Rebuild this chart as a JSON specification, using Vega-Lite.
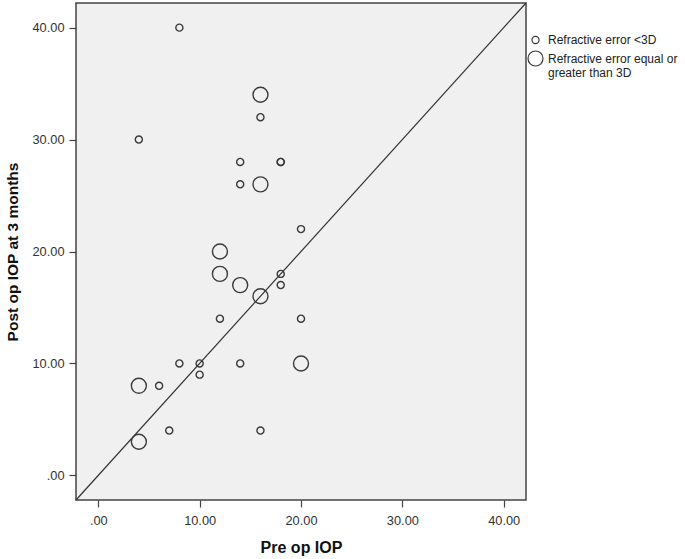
{
  "$schema": "https://vega.github.io/schema/vega-lite/v6.json",
  "autosize": {"type": "none"},
  "padding": {"left": 76, "top": 3, "right": 159, "bottom": 59},
  "width": 450,
  "height": 497,
  "background": "white",
  "config": {
    "view": {"fill": "#f0f0f0", "stroke": "#444444", "strokeWidth": 1.5},
    "font": "Liberation Sans",
    "axis": {"grid": false, "domain": false, "tickColor": "#444444", "tickSize": 7, "tickWidth": 1.2,
             "labelFont": "Liberation Sans", "labelFontSize": 12.8, "labelColor": "#333333",
             "titleFont": "Liberation Sans", "titleFontSize": 16, "titleFontWeight": "bold", "titleColor": "#111111"}
  },
  "datasets": {
    "pts": [
      {"pre": 8, "post": 40, "group": "Refractive error <3D"},
      {"pre": 4, "post": 30, "group": "Refractive error <3D"},
      {"pre": 16, "post": 32, "group": "Refractive error <3D"},
      {"pre": 14, "post": 28, "group": "Refractive error <3D"},
      {"pre": 18, "post": 28, "group": "Refractive error <3D"},
      {"pre": 18, "post": 28, "group": "Refractive error <3D"},
      {"pre": 14, "post": 26, "group": "Refractive error <3D"},
      {"pre": 20, "post": 22, "group": "Refractive error <3D"},
      {"pre": 18, "post": 18, "group": "Refractive error <3D"},
      {"pre": 18, "post": 17, "group": "Refractive error <3D"},
      {"pre": 12, "post": 14, "group": "Refractive error <3D"},
      {"pre": 20, "post": 14, "group": "Refractive error <3D"},
      {"pre": 8, "post": 10, "group": "Refractive error <3D"},
      {"pre": 10, "post": 10, "group": "Refractive error <3D"},
      {"pre": 14, "post": 10, "group": "Refractive error <3D"},
      {"pre": 10, "post": 9, "group": "Refractive error <3D"},
      {"pre": 6, "post": 8, "group": "Refractive error <3D"},
      {"pre": 7, "post": 4, "group": "Refractive error <3D"},
      {"pre": 16, "post": 4, "group": "Refractive error <3D"},
      {"pre": 16, "post": 34, "group": "Refractive error equal or greater than 3D"},
      {"pre": 16, "post": 26, "group": "Refractive error equal or greater than 3D"},
      {"pre": 12, "post": 20, "group": "Refractive error equal or greater than 3D"},
      {"pre": 12, "post": 18, "group": "Refractive error equal or greater than 3D"},
      {"pre": 14, "post": 17, "group": "Refractive error equal or greater than 3D"},
      {"pre": 16, "post": 16, "group": "Refractive error equal or greater than 3D"},
      {"pre": 20, "post": 10, "group": "Refractive error equal or greater than 3D"},
      {"pre": 4, "post": 8, "group": "Refractive error equal or greater than 3D"},
      {"pre": 4, "post": 3, "group": "Refractive error equal or greater than 3D"}
    ],
    "ref": [
      {"x1": -2.2, "y1": -2.2, "x2": 42.2, "y2": 42.2}
    ]
  },
  "layer": [
    {
      "data": {"name": "ref"},
      "mark": {"type": "rule", "color": "#333333", "strokeWidth": 1.2},
      "encoding": {
        "x": {"field": "x1", "type": "quantitative", "scale": {"domain": [-2.2, 42.2], "nice": false, "zero": false}},
        "y": {"field": "y1", "type": "quantitative", "scale": {"domain": [-2.2, 42.2], "nice": false, "zero": false}},
        "x2": {"field": "x2"},
        "y2": {"field": "y2"}
      }
    },
    {
      "data": {"name": "pts"},
      "mark": {"type": "point", "shape": "circle", "filled": false, "stroke": "#3a3a3a", "strokeWidth": 1.4, "opacity": 1},
      "encoding": {
        "x": {"field": "pre", "type": "quantitative", "title": "Pre op IOP",
              "scale": {"domain": [-2.2, 42.2], "nice": false, "zero": false},
              "axis": {"values": [0, 10, 20, 30, 40], "labelExpr": "datum.value == 0 ? '.00' : format(datum.value, '.2f')", "labelPadding": 7, "titlePadding": 13}},
        "y": {"field": "post", "type": "quantitative", "title": "Post op IOP at 3 months",
              "scale": {"domain": [-2.2, 42.2], "nice": false, "zero": false},
              "axis": {"values": [0, 10, 20, 30, 40], "labelExpr": "datum.value == 0 ? '.00' : format(datum.value, '.2f')", "labelPadding": 5, "titlePadding": 11, "titleFontSize": 15.5}},
        "size": {"field": "group", "type": "ordinal",
                 "scale": {"domain": ["Refractive error <3D", "Refractive error equal or greater than 3D"], "range": [50, 225]},
                 "legend": {"title": null, "orient": "none", "legendX": 451, "legendY": 31,
                            "symbolType": "circle", "symbolFillColor": "transparent", "symbolStrokeColor": "#3a3a3a", "symbolStrokeWidth": 1.2,
                            "labelFont": "Liberation Sans", "labelFontSize": 12, "labelColor": "#222222", "labelOffset": 4,
                            "rowPadding": 2, "labelLimit": 200,
                            "labelExpr": "datum.label == 'Refractive error equal or greater than 3D' ? ['Refractive error equal or', 'greater than 3D'] : datum.label"}}
      }
    }
  ]
}
